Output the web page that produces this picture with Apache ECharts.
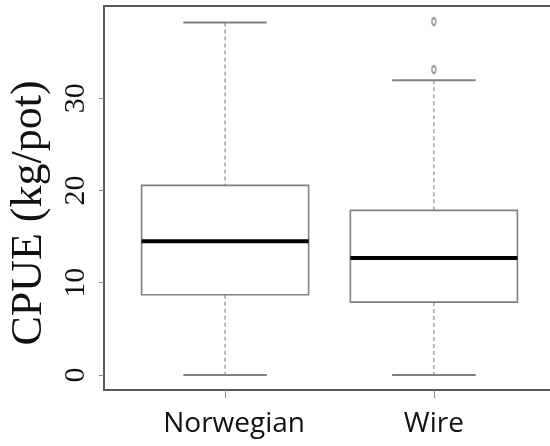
<!DOCTYPE html>
<html>
<head>
<meta charset="utf-8">
<script src="https://cdn.jsdelivr.net/npm/echarts@6/dist/echarts.min.js"></script>
<style>
html,body{margin:0;padding:0;background:#fff;}
#chart{width:550px;height:446px;}
</style>
</head>
<body>
<div id="chart"></div>
<script>
const categories = ['Norwegian', 'Wire'];
const whiskerLow = [0, 0];
const q1 = [8.7, 7.9];
const median = [14.5, 12.67];
const q3 = [20.55, 17.84];
const whiskerHigh = [38.2, 31.95];
const outlierCategory = [2, 2];
const outlierValue = [38.3, 33.1];
const yTicks = [0, 10, 20, 30];
const xTicks = [1, 2];

const boxData = categories.map((c, i) => [i + 1, whiskerLow[i], q1[i], median[i], q3[i], whiskerHigh[i]]);
const outlierData = outlierValue.map((v, i) => [outlierCategory[i], v]);

const frameColor = '#5a5a5a';
const boxColor = '#808080';

function renderBox(params, api) {
  const x = api.value(0);
  const lo = api.value(1), b1 = api.value(2), md = api.value(3), b3 = api.value(4), hi = api.value(5);
  const half = (api.coord([x + 0.4, 0])[0] - api.coord([x - 0.4, 0])[0]) / 2;
  const cx = api.coord([x, md])[0];
  const yLo = api.coord([x, lo])[1];
  const y1 = api.coord([x, b1])[1];
  const yMd = api.coord([x, md])[1];
  const y3 = api.coord([x, b3])[1];
  const yHi = api.coord([x, hi])[1];
  const dashStyle = { stroke: '#8a8a8a', lineWidth: 1.2, lineDash: [4, 3] };
  const capStyle = { stroke: boxColor, lineWidth: 2 };
  return {
    type: 'group',
    children: [
      { type: 'line', shape: { x1: cx, y1: yHi, x2: cx, y2: y3 }, style: dashStyle },
      { type: 'line', shape: { x1: cx, y1: y1, x2: cx, y2: yLo }, style: dashStyle },
      { type: 'line', shape: { x1: cx - half / 2, y1: yHi, x2: cx + half / 2, y2: yHi }, style: capStyle },
      { type: 'line', shape: { x1: cx - half / 2, y1: yLo, x2: cx + half / 2, y2: yLo }, style: capStyle },
      { type: 'rect', shape: { x: cx - half, y: y3, width: 2 * half, height: y1 - y3 }, style: { fill: '#fff', stroke: boxColor, lineWidth: 1.6 } },
      { type: 'line', shape: { x1: cx - half, y1: yMd, x2: cx + half, y2: yMd }, style: { stroke: '#000', lineWidth: 4 } }
    ]
  };
}

const chart = echarts.init(document.getElementById('chart'), null, { renderer: 'canvas' });
chart.setOption({
  backgroundColor: '#fff',
  animation: false,
  grid: { left: 104, top: 6, width: 451, height: 384, outerBoundsMode: 'none' },
  xAxis: [
    {
      type: 'value', min: 0.42, max: 2.58,
      axisLine: { show: true, onZero: false, lineStyle: { color: frameColor, width: 2 } },
      axisTick: { show: true, customValues: xTicks, length: 8, lineStyle: { color: '#888', width: 1 } },
      axisLabel: {
        customValues: xTicks, margin: 20,
        fontFamily: 'Open Sans', fontSize: 28, color: '#111',
        formatter: v => v === 1 ? '{n|' + categories[0] + '}' : '{w|' + categories[1] + '}',
        rich: {
          n: { fontFamily: 'Open Sans', fontSize: 28, color: '#111', padding: [0, 0, 0, 18] },
          w: { fontFamily: 'Open Sans', fontSize: 28, color: '#111' }
        }
      },
      splitLine: { show: false }
    },
    {
      type: 'value', min: 0.42, max: 2.58, position: 'top',
      axisLine: { show: true, onZero: false, lineStyle: { color: frameColor, width: 2 } },
      axisTick: { show: false }, axisLabel: { show: false }, splitLine: { show: false }
    }
  ],
  yAxis: {
    type: 'value', min: -1.63, max: 40.0,
    name: 'CPUE (kg/pot)', nameLocation: 'middle', nameGap: 53,
    nameTextStyle: { fontFamily: 'Liberation Serif', fontSize: 44, color: '#111', padding: [0, 30, 0, 0] },
    axisLine: { show: true, onZero: false, lineStyle: { color: frameColor, width: 2 } },
    axisTick: { show: true, customValues: yTicks, length: 5, lineStyle: { color: '#888', width: 1 } },
    axisLabel: {
      customValues: yTicks, rotate: 90, margin: 13,
      fontFamily: 'Liberation Serif', fontSize: 30, color: '#111'
    },
    splitLine: { show: false }
  },
  series: [
    {
      type: 'custom', renderItem: renderBox, data: boxData,
      encode: { x: 0, y: [1, 2, 3, 4, 5] }, z: 2
    },
    {
      type: 'scatter', data: outlierData, symbol: 'emptyCircle', symbolSize: [4, 7],
      itemStyle: { color: '#888', borderColor: '#888', borderWidth: 1.2 }, z: 3
    }
  ]
});
</script>
</body>
</html>
